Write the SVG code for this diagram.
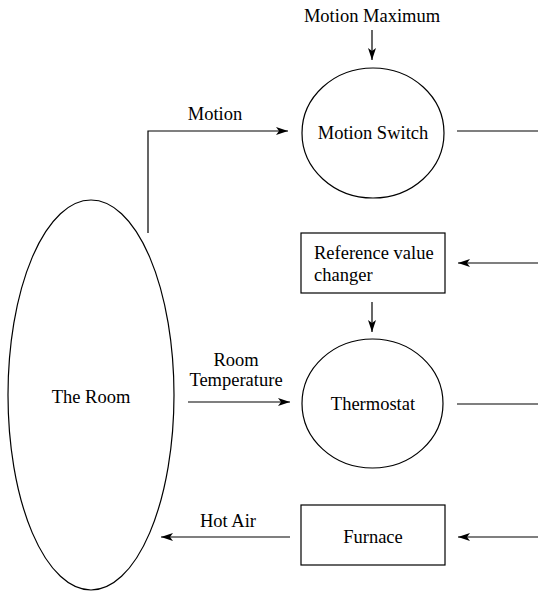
<svg xmlns="http://www.w3.org/2000/svg" width="538" height="593" viewBox="0 0 538 593">
<style>
text{font-family:'Liberation Serif','Times New Roman','DejaVu Serif',serif;font-size:18.5px;fill:#000}
.c{text-anchor:middle}
.s{fill:none;stroke:#000;stroke-width:1.2}
.l{fill:none;stroke:#000;stroke-width:1.2}
</style>
<defs>
<marker id="a" viewBox="0 0 12 8" refX="12" refY="4" markerWidth="12" markerHeight="8" markerUnits="userSpaceOnUse" orient="auto">
<path d="M0,0 L12,4 L0,8 L3,4 Z" fill="#000"/>
</marker>
</defs>
<rect width="538" height="593" fill="#fff"/>
<g id="room">
<ellipse class="s" cx="91" cy="395" rx="83" ry="195"/>
<text class="c" x="91" y="403">The Room</text>
</g>
<g id="motion-switch">
<ellipse class="s" cx="373" cy="133" rx="71" ry="65"/>
<text class="c" x="373" y="139">Motion Switch</text>
</g>
<g id="reference-value-changer">
<rect class="s" x="301" y="233" width="144" height="60"/>
<text x="314" y="259">Reference value</text>
<text x="314" y="281">changer</text>
</g>
<g id="thermostat">
<ellipse class="s" cx="372.5" cy="403.5" rx="70.5" ry="64.5"/>
<text class="c" x="373" y="410">Thermostat</text>
</g>
<g id="furnace">
<rect class="s" x="301" y="505" width="144" height="60"/>
<text class="c" x="373" y="543">Furnace</text>
</g>
<g id="connectors">
<path class="l" d="M148,233 V131 H288" marker-end="url(#a)"/>
<text class="c" x="215" y="120">Motion</text>
<text class="c" x="372" y="22">Motion Maximum</text>
<line class="l" x1="372" y1="30" x2="372" y2="60" marker-end="url(#a)"/>
<line class="l" x1="457" y1="131" x2="538" y2="131"/>
<line class="l" x1="538" y1="263" x2="458" y2="263" marker-end="url(#a)"/>
<line class="l" x1="372" y1="302" x2="372" y2="332" marker-end="url(#a)"/>
<text class="c" x="236" y="366">Room</text>
<text class="c" x="236" y="386">Temperature</text>
<line class="l" x1="188" y1="402" x2="290" y2="402" marker-end="url(#a)"/>
<line class="l" x1="457" y1="404" x2="538" y2="404"/>
<text class="c" x="228" y="527">Hot Air</text>
<line class="l" x1="290" y1="537" x2="161" y2="537" marker-end="url(#a)"/>
<line class="l" x1="538" y1="537" x2="458" y2="537" marker-end="url(#a)"/>
</g>
</svg>
